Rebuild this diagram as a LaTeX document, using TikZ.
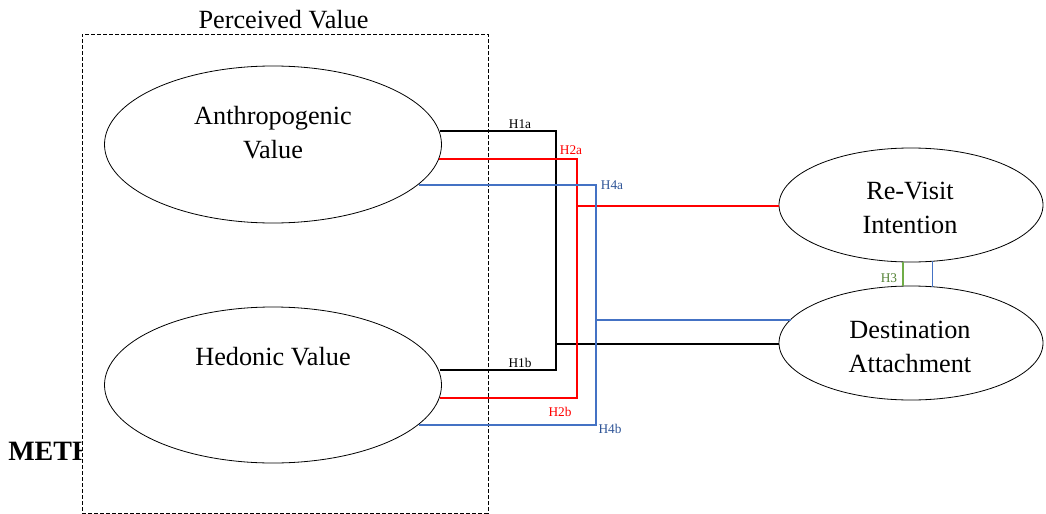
\documentclass[tikz,border=0pt]{standalone}
\usepackage{fontspec}
\setmainfont{Liberation Serif}
\usetikzlibrary{shapes.geometric}
\definecolor{hblue}{HTML}{4472C4}
\definecolor{hbluetext}{HTML}{2F5597}
\definecolor{hred}{HTML}{FF0000}
\definecolor{hgreen}{HTML}{70AD47}
\definecolor{hgreentext}{HTML}{548235}
\begin{document}
\begin{tikzpicture}[x=0.75pt,y=-0.75pt,
  construct/.style={ellipse, draw, line width=0.6pt, inner sep=0pt, outer sep=0pt},
  bigtext/.style={font=\fontsize{19.7}{25.5}\selectfont, align=center, inner sep=0pt},
  hyp/.style={font=\fontsize{10}{12}\selectfont, inner sep=0pt},
  link/.style={line width=0.85pt}]
\useasboundingbox (0,0) rectangle (1046,514);

% section heading, partly hidden by the framed group
\node[font=\bfseries\fontsize{21}{25}\selectfont, anchor=west, inner sep=0pt] (meth) at (8,451) {METHODOLOGY};

% framed group of the perceived value constructs
\node[draw, dash pattern=on 3pt off 1.5pt, line width=0.6pt, fill=white,
      minimum width=304.5pt, minimum height=359.25pt, inner sep=0pt, outer sep=0pt] (pvbox) at (285,273.5) {};
\node[bigtext] (pvlabel) at (283.5,20) {Perceived Value};

% constructs
\node[construct, minimum width=252.75pt, minimum height=117.75pt] (anth) at (273,144.5) {};
\node[construct, minimum width=252.75pt, minimum height=117pt] (hed) at (273,385) {};
\node[construct, minimum width=198pt, minimum height=85.5pt] (rev) at (911,205) {};
\node[construct, minimum width=198pt, minimum height=85.5pt] (dest) at (911,343) {};

\node[bigtext] (anthtxt) at (273,132.5) {Anthropogenic\\Value};
\node[bigtext] (hedtxt) at (273,357) {Hedonic Value};
\node[bigtext] (revtxt) at (910,207.5) {Re-Visit\\Intention};
\node[bigtext] (desttxt) at (910,346.5) {Destination\\Attachment};

% bend points of the hypothesis paths
\coordinate (k1a) at (556,131);
\coordinate (k1b) at (556,370);
\coordinate (k1d) at (556,344);
\coordinate (k2a) at (577,159);
\coordinate (k2b) at (577,398);
\coordinate (k2r) at (577,206);
\coordinate (k4a) at (596,185);
\coordinate (k4b) at (596,425);
\coordinate (k4d) at (596,320);

% H1: perceived value -> destination attachment
\draw[link, black] (k1a -| anth.4.65) -- (k1a) -- (k1b) -- (k1b -| hed.4.8);
\draw[link, black] (k1d) -- (k1d -| dest.west);
% H2: perceived value -> re-visit intention
\draw[link, hred] (k2a -| anth.-5) -- (k2a) -- (k2b) -- (k2b -| hed.-4.8);
\draw[link, hred] (k2r) -- (k2r -| rev.west);
% H4: mediated path
\draw[link, hblue] (k4a -| anth.-15.67) -- (k4a) -- (k4b) -- (k4b -| hed.-15.9);
\draw[link, hblue] (k4d) -- (k4d -| dest.169.2);
% H3 and mediation between the outcome constructs
\draw[link, hgreen] (rev.-98) -- (dest.98);
\draw[link, hblue] (rev.-69.55) -- (dest.69.55);

% hypothesis labels
\node[hyp, black] (l1a) at (520,124) {H1a};
\node[hyp, black] (l1b) at (520,363) {H1b};
\node[hyp, hred] (l2a) at (571,150) {H2a};
\node[hyp, hred] (l2b) at (560,412) {H2b};
\node[hyp, hbluetext] (l4a) at (612,185) {H4a};
\node[hyp, hbluetext] (l4b) at (610,429) {H4b};
\node[hyp, hgreentext] (l3) at (889,278) {H3};
\end{tikzpicture}
\end{document}
